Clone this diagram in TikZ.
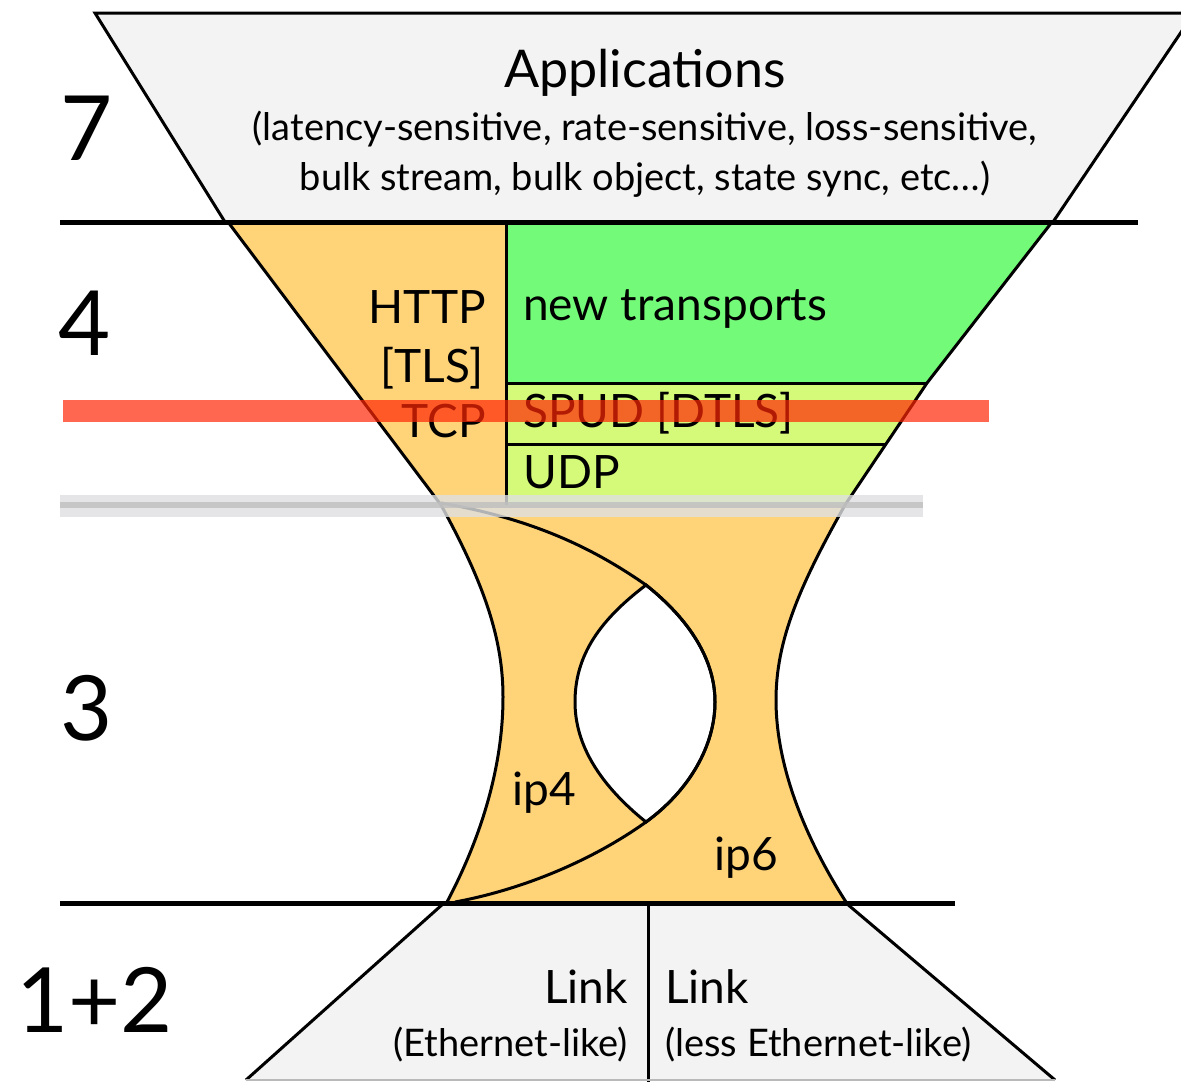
\documentclass[tikz,border=0pt]{standalone}
\usepackage{fontspec}
\setmainfont{Lato}

\definecolor{paleGrey}{RGB}{243,243,243}
\definecolor{tcpOrange}{RGB}{255,212,121}
\definecolor{newGreen}{RGB}{116,250,121}
\definecolor{udpGreen}{RGB}{213,250,121}
\definecolor{barRed}{RGB}{255,38,5}
\definecolor{bandGrey}{RGB}{222,223,225}

\begin{document}
\begin{tikzpicture}[
  x=1pt, y=-1pt,
  outline/.style={draw=black, line width=3pt, line join=miter},
  rule/.style={line width=5pt},
  sep/.style={line width=3pt},
  num/.style={font=\fontsize{90}{90}\selectfont, inner sep=0pt, anchor=base west},
  lbl/.style={font=\fontsize{46}{46}\selectfont, inner sep=0pt},
  note/.style={font=\fontsize{38}{38}\selectfont, inner sep=0pt},
]
\useasboundingbox (0,0) rectangle (1181,1082);

% applications
\filldraw[fill=paleGrey, outline] (95,13) -- (1194,13) -- (1053,222) -- (225,222) -- cycle;

% transports
\fill[tcpOrange] (228,222) -- (506,222) -- (506,505) -- (441,505) -- cycle;
\fill[newGreen] (506,222) -- (1052,222) -- (927,383) -- (506,383) -- cycle;
\fill[udpGreen] (506,383) -- (927,383) -- (845,505) -- (506,505) -- cycle;

% network waist
\fill[tcpOrange] (441,505) .. controls (485,585) and (503,640) .. (503,697)
  .. controls (503,760) and (485,830) .. (447,902) -- (846,902)
  .. controls (800,830) and (776,760) .. (776,700)
  .. controls (776,640) and (800,585) .. (845,505) -- cycle;
\filldraw[fill=white, sep] (646,585) .. controls (690,620) and (715,660) .. (715,702)
  .. controls (715,745) and (690,790) .. (646,822)
  .. controls (600,785) and (575,745) .. (575,702)
  .. controls (575,655) and (600,620) .. (646,585) -- cycle;
\draw[sep] (441,503) .. controls (540,520) and (600,553) .. (646,585)
  .. controls (690,620) and (715,660) .. (715,702)
  .. controls (715,745) and (690,790) .. (646,822)
  .. controls (590,862) and (520,890) .. (455,902);

% links
\fill[paleGrey] (444,903) -- (846,903) -- (1055,1080) -- (246,1080) -- cycle;
\draw[outline] (246,1080) -- (444,903);
\draw[outline] (846,903) -- (1055,1080);
\draw[sep] (648,903) -- (648,1082);
\draw[gray!55, line width=2pt] (246,1080) -- (1055,1080);

% funnel sides and dividers
\draw[outline] (228,222) -- (441,505) .. controls (485,585) and (503,640) .. (503,697)
  .. controls (503,760) and (485,830) .. (447,902);
\draw[outline] (1052,222) -- (927,383) -- (845,505)
  .. controls (800,585) and (776,640) .. (776,700)
  .. controls (776,760) and (800,830) .. (846,902);
\draw[sep] (506,222) -- (506,505);
\draw[sep] (506,383) -- (927,383);
\draw[sep] (506,444) -- (886,444);

\draw[rule] (60,222) -- (1138,222);
\draw[rule] (60,903) -- (955,903);

% layer numbers
\node[num] (layer7) at (60,160) {7};
\node[num] (layer4) at (58,355) {4};
\node[num] (layer3) at (60,740) {3};
\node[num] (layer12) at (16,1032) {1+2};

% labels
\node[font=\fontsize{52}{52}\selectfont, inner sep=0pt, anchor=base] (apps) at (645,87) {Applications};
\node[note, anchor=base] (kinds1) at (645,140) {(latency-sensitive, rate-sensitive, loss-sensitive,};
\node[note, anchor=base] (kinds2) at (645,190) {bulk stream, bulk object, state sync, etc…)};

\node[lbl, anchor=base east] (http) at (486,323) {HTTP};
\node[lbl, anchor=base east] (tls) at (484,382) {[TLS]};
\node[lbl, anchor=base east] (tcp) at (486,437) {TCP};
\node[lbl, anchor=base west] (newtr) at (523,320) {new transports};
\node[lbl, anchor=base west] (spud) at (523,427) {SPUD [DTLS]};
\node[lbl, anchor=base west] (udp) at (523,488) {UDP};

\node[lbl, anchor=base west] (ipfour) at (512,805) {ip4};
\node[lbl, anchor=base west] (ipsix) at (714,870) {ip6};

\node[lbl, anchor=base east] (linkA) at (628,1003) {Link};
\node[note, anchor=base east] (linkAnote) at (628,1056) {(Ethernet-like)};
\node[lbl, anchor=base west] (linkB) at (665,1003) {Link};
\node[note, anchor=base west] (linkBnote) at (665,1056) {(less Ethernet-like)};

% overlays
\fill[barRed, opacity=0.7] (63,400) rectangle (989,422);
\fill[bandGrey, opacity=0.8] (60,495) rectangle (923,517);
\fill[black!25, opacity=0.8] (60,502) rectangle (923,508);
\end{tikzpicture}
\end{document}
